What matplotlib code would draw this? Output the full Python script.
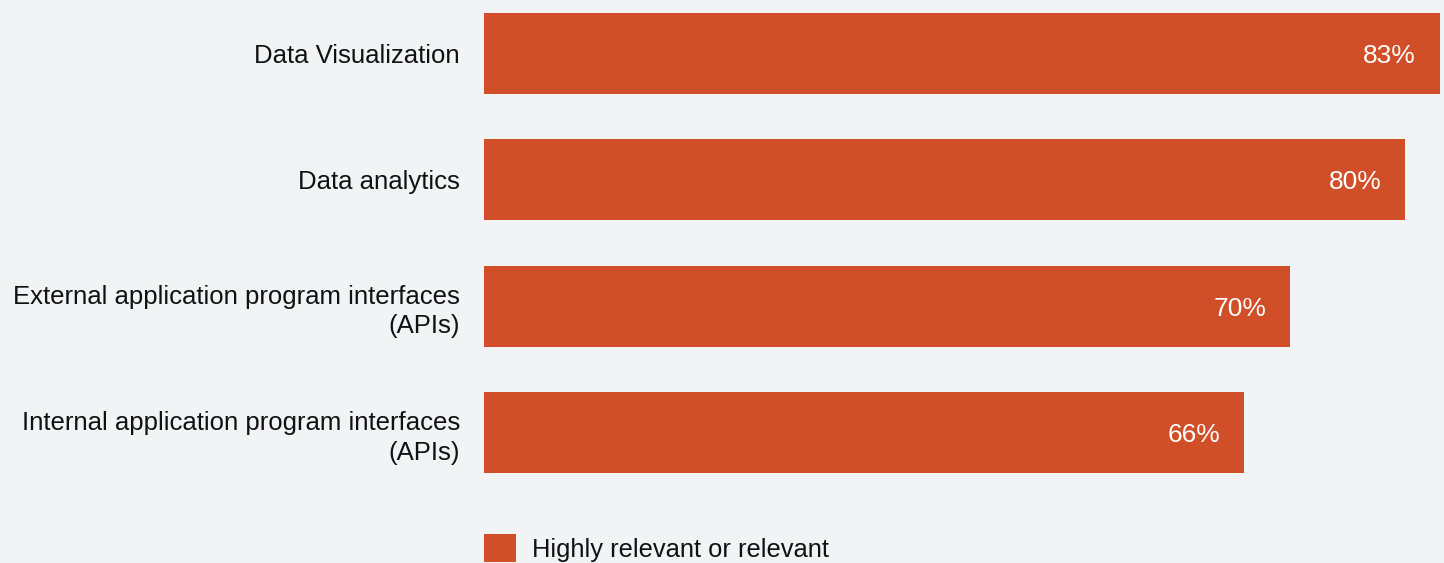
import matplotlib
matplotlib.use("Agg")
import matplotlib.pyplot as plt
from matplotlib.patches import Patch

categories = ["Data Visualization", "Data analytics",
              "External application program interfaces\n(APIs)",
              "Internal application program interfaces\n(APIs)"]
values = [83, 80, 70, 66]
series_name = "Highly relevant or relevant"

BG = "#f2f3f5"
BAR = "#d04f29"
W, H, DPI = 1444, 563, 100

plt.rcParams['font.family'] = ['Liberation Sans', 'DejaVu Sans']
fig = plt.figure(figsize=(W / DPI, H / DPI), dpi=DPI, facecolor=BG)
ax = fig.add_axes([484 / W, 1 - 490 / H, 960 / W, 490 / H])
ax.set_facecolor(BG)

ypos = list(range(len(categories)))
ax.barh(ypos, values, height=0.64, color=BAR)
ax.set_xlim(0, 960 / 11.518)
ax.set_ylim((490 - 53.5) / 126.3, -53.5 / 126.3)

ax.set_yticks(ypos)
ax.set_yticklabels(categories, fontsize=18.5, color="#111111", linespacing=1.3)
ax.tick_params(axis='y', length=0, pad=17.3)
ax.set_xticks([])
for s in ax.spines.values():
    s.set_visible(False)

for y, v in zip(ypos, values):
    ax.annotate(f"{v}%", xy=(v, y), xytext=(-17.3, -1.8), textcoords='offset points',
                ha='right', va='center', color='white', fontsize=19)

fs = 18.4
fs_px = fs / 72 * DPI
leg = fig.legend(handles=[Patch(facecolor=BAR, edgecolor='none', label=series_name)],
                 loc='upper left', bbox_to_anchor=(484 / W, 1 - 534 / H),
                 frameon=False, borderpad=0, borderaxespad=0,
                 handlelength=32 / fs_px, handleheight=34 / fs_px,
                 handletextpad=16 / fs_px, fontsize=fs)
for t in leg.get_texts():
    t.set_color("#111111")

fig.savefig("out.png", dpi=DPI, facecolor=BG)
